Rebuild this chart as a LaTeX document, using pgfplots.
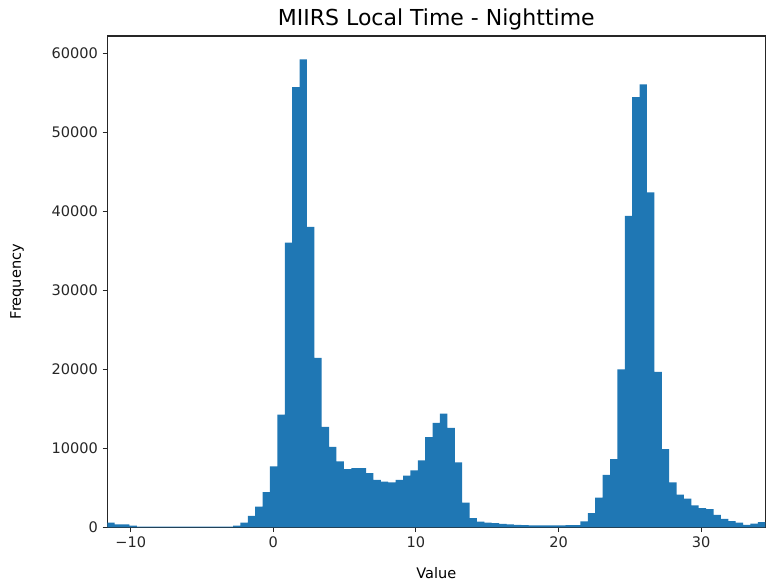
\documentclass[border=0pt]{standalone}
\usepackage{pgfplots}
\pgfplotsset{compat=1.18}
\usepackage{pgfplotstable}
\usepackage{fontspec}
\setmainfont{DejaVu Sans}
\definecolor{mplblue}{HTML}{1F77B4}

% Histogram: left bin edges and counts (last row closes the final bin)
\pgfplotstableread{
edge count
-11.640 610
-11.122 400
-10.603 400
-10.085 230
-9.566 110
-9.048 110
-8.530 110
-8.011 110
-7.493 110
-6.974 110
-6.456 110
-5.938 110
-5.419 110
-4.901 110
-4.382 110
-3.864 110
-3.346 110
-2.827 230
-2.309 610
-1.790 1460
-1.272 2640
-0.754 4460
-0.235 7720
0.283 14280
0.802 36060
1.320 55730
1.838 59240
2.357 38050
2.875 21470
3.394 12710
3.912 10180
4.430 8350
4.949 7390
5.467 7510
5.986 7510
6.504 6880
7.022 6030
7.541 5810
8.059 5690
8.578 6030
9.096 6540
9.614 7210
10.133 8480
10.651 11440
11.170 13220
11.688 14400
12.206 12590
12.725 8220
13.243 3150
13.762 1165
14.280 740
14.798 610
15.317 530
15.835 445
16.354 400
16.872 330
17.390 290
17.909 270
18.427 260
18.946 250
19.464 250
19.982 260
20.501 280
21.019 300
21.538 780
22.056 1800
22.574 3780
23.093 6660
23.611 8650
24.130 19990
24.648 39440
25.166 54460
25.685 56070
26.203 42410
26.722 19690
27.240 9920
27.758 5690
28.277 4160
28.795 3640
29.314 2800
29.832 2430
30.350 2300
30.869 1590
31.387 1080
31.906 790
32.424 610
32.942 320
33.461 480
33.979 660
34.498 660
}\histdata

\begin{document}
\begin{tikzpicture}
\begin{axis}[
  at={(0,0)}, anchor=south west,
  scale only axis,
  width=493.5pt, height=368.6pt,
  xmin=-11.64, xmax=34.498,
  ymin=0, ymax=62200,
  axis line style={line width=0.83pt, black!85},
  tick align=outside,
  major tick length=3.6pt,
  every tick/.style={line width=0.83pt, black!85},
  xtick pos=lower, ytick pos=left,
  xtick={-10,0,10,20,30},
  xticklabels={−10,0,10,20,30},
  ytick={0,10000,20000,30000,40000,50000,60000},
  scaled y ticks=false,
  /pgf/number format/1000 sep={},
  /pgf/number format/assume math mode=true,
  tick label style={font=\fontsize{10.9}{13}\selectfont, text=black!85},
  title={MIIRS Local Time - Nighttime},
  title style={font=\fontsize{16.5}{19}\selectfont, at={(axis description cs:0.5,1.0164)}, anchor=center},
  xlabel={Value},
  xlabel style={font=\fontsize{10.9}{13}\selectfont, at={(axis description cs:0.5,0)}, anchor=center, yshift=-34.1pt},
  ylabel={Frequency},
  ylabel style={font=\fontsize{10.9}{13}\selectfont, at={(axis description cs:-0.1372,0.5)}, anchor=center},
]
\addplot[ybar interval, fill=mplblue, draw=none] table[x=edge, y=count] {\histdata};
\end{axis}
\pgfresetboundingbox
\path (-80.5pt,-42.4pt) rectangle (494.8pt,395.6pt);
\end{tikzpicture}
\end{document}
